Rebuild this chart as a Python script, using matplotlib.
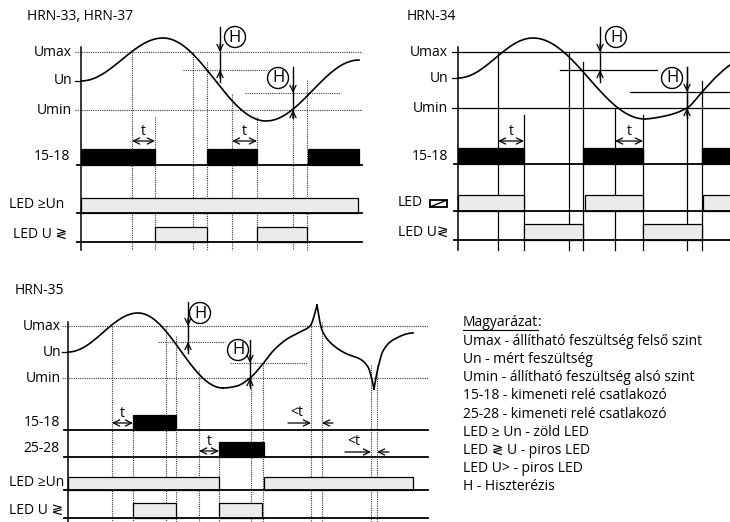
import numpy as np
import matplotlib.pyplot as plt
from matplotlib.patches import Rectangle, Circle

plt.rcParams['font.family'] = ['Open Sans', 'DejaVu Sans']

W, H = 730, 522
FS = 10
LIGHT = "#ebebeb"

# ---------- HRN-33, HRN-37 ----------
p1_title = "HRN-33, HRN-37"
p1_levels = [("Umax", 52), ("Un", 81), ("Umin", 110)]
# curve pieces: "wave" = extrema joined by half-cosines, "smooth" = read points
p1_curve = [("wave", [81, 163, 266, 359], [81, 38, 121, 60])]
p1_hyst_lines = [(70, 183, 268), (93, 245, 340)]
p1_events = [(132, 52), (155, 117), (193, 52), (207, 62), (232, 94), (257, 117), (293, 110), (307, 80)]
p1_rows = [("15-18", 70, 165, 149, [(81, 155), (207, 257), (308, 359)], "black"),
           ("LED ≥Un", 64, 213, 198, [(81, 358)], LIGHT),
           ("LED U ≷", 67, 242, 227, [(155, 207), (257, 307)], LIGHT)]
p1_t = [(132, 155, 141), (232, 257, 141)]
p1_h = [(220, 27, 52, 70, 82, 235, 37), (293, 67, 93, 110, 118, 278, 78)]

# ---------- HRN-34 ----------
p2_title = "HRN-34"
p2_levels = [("Umax", 52), ("Un", 78), ("Umin", 108)]
p2_curve = [("wave", [458, 533, 645], [78, 38, 119]),
            ("smooth", [645, 665, 687, 702, 716, 730, 740], [119, 116, 108, 92, 77, 65, 59])]
p2_hyst_lines = [(70, 560, 657), (92, 630, 730)]
p2_events = [(498, 52), (524, 115), (569, 52), (583, 62), (615, 108), (643, 115), (687, 67), (702, 81)]
p2_rows = [("15-18", 448, 164, 148, [(458, 524), (583, 643), (702, 740)], "black"),
           ("LED", 423, 211, 195, [(458, 524), (585, 643), (703, 740)], LIGHT),
           ("LED U≷", 448, 240, 224, [(524, 583), (643, 702)], LIGHT)]
p2_t = [(498, 524, 141), (615, 643, 141)]
p2_h = [(600, 27, 52, 70, 82, 616, 37), (687, 67, 92, 108, 118, 672, 78)]

# ---------- HRN-35 ----------
p3_title = "HRN-35"
p3_levels = [("Umax", 326), ("Un", 352), ("Umin", 378)]
p3_curve = [("wave", [68, 138, 223], [352, 313, 388]),
            ("smooth", [223, 237, 250, 262, 273, 287, 300, 310, 317],
             [388, 386, 378, 365, 351, 339, 332, 326, 305]),
            ("smooth", [317, 322, 333, 347, 360, 368, 374],
             [305, 330, 345, 354, 359, 367, 389]),
            ("smooth", [374, 378, 383, 393, 413],
             [389, 368, 351, 340, 333])]
p3_hyst_lines = [(342, 158, 225), (363, 230, 307)]
p3_events = [(112, 326), (133, 415), (166, 326), (176, 336), (199, 370), (219, 442),
             (251, 378), (263, 365), (311, 322), (322, 322), (371, 365), (377, 365)]
p3_rows = [("15-18", 60, 430, 415, [(133, 176)], "black"),
           ("25-28", 60, 457, 442, [(219, 264)], "black"),
           ("LED ≥Un", 64, 490, 477, [(68, 219), (264, 413)], LIGHT),
           ("LED U ≷", 63, 518, 503, [(133, 176), (219, 262)], LIGHT)]
p3_t = [(112, 133, 423), (199, 219, 451)]
p3_lt = [(288, 311, 322, 333, 423), (345, 371, 377, 389, 452)]
p3_h = [(188, 302, 326, 342, 353, 200, 313), (250, 340, 363, 378, 388, 238, 350)]

legend_title = "Magyarázat"
legend_lines = ["Umax - állítható feszültség felső szint",
                "Un - mért feszültség",
                "Umin - állítható feszültség alsó szint",
                "15-18 - kimeneti relé csatlakozó",
                "25-28 - kimeneti relé csatlakozó",
                "LED ≥ Un - zöld LED",
                "LED ≷ U - piros LED",
                "LED U> - piros LED",
                "H - Hiszterézis"]


def end_slope(h0, h1, d0, d1):
    m = ((2 * h0 + h1) * d0 - h0 * d1) / (h0 + h1)
    if np.sign(m) != np.sign(d0):
        return 0.0
    if np.sign(d0) != np.sign(d1) and abs(m) > abs(3 * d0):
        return 3 * d0
    return m


def smooth(xk, yk, n=30):
    # monotone cubic through the read points
    xk = np.asarray(xk, float)
    yk = np.asarray(yk, float)
    h = np.diff(xk)
    d = np.diff(yk) / h
    m = np.zeros_like(xk)
    for k in range(1, len(xk) - 1):
        if d[k - 1] * d[k] > 0:
            w1 = 2 * h[k] + h[k - 1]
            w2 = h[k] + 2 * h[k - 1]
            m[k] = (w1 + w2) / (w1 / d[k - 1] + w2 / d[k])
    m[0] = end_slope(h[0], h[1], d[0], d[1])
    m[-1] = end_slope(h[-1], h[-2], d[-1], d[-2])
    t = np.linspace(0, 1, n)
    h00 = 2 * t**3 - 3 * t**2 + 1
    h10 = t**3 - 2 * t**2 + t
    h01 = -2 * t**3 + 3 * t**2
    h11 = t**3 - t**2
    xs, ys = [], []
    for k in range(len(h)):
        xs.append(xk[k] + t * h[k])
        ys.append(h00 * yk[k] + h10 * h[k] * m[k] + h01 * yk[k + 1] + h11 * h[k] * m[k + 1])
    return np.concatenate(xs), np.concatenate(ys)


def wave(xk, yk, n=60):
    s = np.linspace(0, 1, n)
    e = (1 - np.cos(np.pi * s)) / 2
    xs, ys = [], []
    for k in range(len(xk) - 1):
        xs.append(xk[k] + s * (xk[k + 1] - xk[k]))
        ys.append(yk[k] + e * (yk[k + 1] - yk[k]))
    return np.concatenate(xs), np.concatenate(ys)


def arrow(ax, x0, y0, x1, y1, style="->"):
    ax.annotate("", xy=(x1, y1), xytext=(x0, y0),
                arrowprops=dict(arrowstyle=style + ",head_length=0.45,head_width=0.22",
                                lw=0.9, color="black", shrinkA=0, shrinkB=0))


def draw_panel(ax, title, title_xy, axis_x, x_end, label_x, levels, curves, hyst_lines,
               events, rows, t_marks, h_marks, top, bottom, dotted):
    gl = dict(color="#3a3a3a", lw=0.8, ls=(0, (1, 1))) if dotted else dict(color="black", lw=0.9)
    ax.text(*title_xy, title, fontsize=FS, ha="left", va="center")
    ax.plot([axis_x, axis_x], [top, bottom], color="black", lw=1.1)
    for name, y in levels:
        ax.text(label_x, y, name, fontsize=FS, ha="right", va="center")
        if name == "Un":
            ax.plot([axis_x - 6, axis_x], [y, y], color="black", lw=0.9)
        else:
            ax.plot([axis_x - 6, x_end], [y, y], **gl)
    for y, x0, x1 in hyst_lines:
        ax.plot([x0, x1], [y, y], **gl)
    for x, y0 in events:
        ax.plot([x, x], [y0, bottom], **gl)
    for label, lab_x, base, ytop, spans, fc in rows:
        for x0, x1 in spans:
            ax.add_patch(Rectangle((x0, ytop), x1 - x0, base - ytop, facecolor=fc,
                                   edgecolor="black", lw=0.9, zorder=3))
        ax.plot([axis_x - 4, x_end], [base, base], color="black", lw=1.3, zorder=4)
        ax.text(lab_x, base - 8, label, fontsize=FS, ha="right", va="center")
    for x0, x1, y in t_marks:
        arrow(ax, x0, y, x1, y, "<->")
        ax.text((x0 + x1) / 2, y - 2, "t", fontsize=FS, ha="center", va="bottom")
    for x, ytop, ydown, yup, ybot, cx, cy in h_marks:
        ax.plot([x, x], [ytop, ybot], color="black", lw=1)
        arrow(ax, x, ydown - 8, x, ydown)
        arrow(ax, x, yup + 8, x, yup)
        ax.add_patch(Circle((cx, cy), 10.5, fill=False, lw=1, color="black"))
        ax.text(cx, cy + 0.5, "H", fontsize=12, ha="center", va="center")
    for kind, xs, ys in curves:
        cx_, cy_ = wave(xs, ys) if kind == "wave" else smooth(xs, ys)
        ax.plot(cx_, cy_, color="black", lw=1.2, zorder=5)


fig = plt.figure(figsize=(W / 100, H / 100), dpi=100)
ax = fig.add_axes([0, 0, 1, 1])
ax.set_xlim(0, W)
ax.set_ylim(H, 0)
ax.axis("off")

draw_panel(ax, p1_title, (27, 17), 81, 362, 72, p1_levels, p1_curve, p1_hyst_lines,
           p1_events, p1_rows, p1_t, p1_h, 47, 250, True)
draw_panel(ax, p2_title, (407, 17), 458, 730, 448, p2_levels, p2_curve, p2_hyst_lines,
           p2_events, p2_rows, p2_t, p2_h, 47, 250, False)
draw_panel(ax, p3_title, (15, 290), 68, 428, 61, p3_levels, p3_curve, p3_hyst_lines,
           p3_events, p3_rows, p3_t, p3_h, 322, 522, True)

# LED icon for HRN-34 (rectangle with diagonal)
ax.add_patch(Rectangle((430, 200), 17, 7, fill=False, lw=1.3, color="black"))
ax.plot([430, 447], [207, 200], color="black", lw=1)

# "<t" marks on HRN-35
for a0, a1, b1, b0, y in p3_lt:
    arrow(ax, a0, y, a1, y)
    arrow(ax, b0, y, b1, y)
    ax.text(a0 + 2, y - 3, "<t", fontsize=FS, ha="left", va="bottom")

# legend
lx, ly0, dy = 463, 323, 18.2
tt = ax.text(lx, ly0, legend_title, fontsize=FS, ha="left", va="center")
fig.canvas.draw()
bb = tt.get_window_extent().transformed(ax.transData.inverted())
ax.text(bb.x1, ly0, ":", fontsize=FS, ha="left", va="center")
ax.plot([lx, bb.x1], [ly0 + 7, ly0 + 7], color="black", lw=0.8)
for i, line in enumerate(legend_lines):
    ax.text(lx, ly0 + (i + 1) * dy, line, fontsize=FS, ha="left", va="center")

fig.savefig("out.png", dpi=100)
